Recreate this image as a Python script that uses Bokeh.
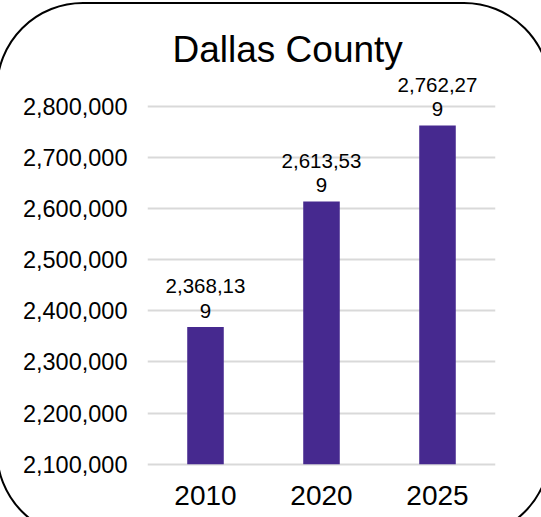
from bokeh.plotting import figure
from bokeh.models import (ColumnDataSource, FixedTicker, NumeralTickFormatter, Title,
                          Range1d, InlineStyleSheet)
from bokeh.core.properties import value
from bokeh.embed import file_html
from bokeh.resources import INLINE

# ---- data ----
title_text = "Dallas County"
years = ["2010", "2020", "2025"]
population = [2368139, 2613539, 2762279]
y_ticks = [2100000, 2200000, 2300000, 2400000, 2500000, 2600000, 2700000, 2800000]
baseline = 2100000

# data labels wrap after 8 characters, as in the original
label_full = [f"{v:,}" for v in population]
label_line1 = [s[:8] for s in label_full]
label_line2 = [s[8:] for s in label_full]

src = ColumnDataSource(dict(year=years, pop=population, l1=label_line1, l2=label_line2))

FONT = "Liberation Sans"
W, H = 541, 517

p = figure(width=W, height=H, x_range=years, y_range=Range1d(2095500, 2869840),
           output_backend="svg", toolbar_location=None,
           min_border_left=147, min_border_right=46, min_border_top=70, min_border_bottom=51)
p.outline_line_color = None
p.background_fill_color = "white"
p.border_fill_color = "white"

p.vbar(x="year", top="pop", bottom=baseline, width=0.315, source=src,
       fill_color="#46298F", line_color=None)

common = dict(source=src, text_align="center", text_baseline="alphabetic",
              text_font=value(FONT), text_font_size="20.5px", text_color="black")
p.text(x="year", y="pop", text="l1", y_offset=-41, **common)
p.text(x="year", y="pop", text="l2", y_offset=-16.5, **common)

t = Title(text=title_text, align="left", offset=25, standoff=2,
          text_font=FONT, text_font_size="37px", text_font_style="normal",
          text_color="black")
p.add_layout(t, "above")

# axes
p.yaxis.ticker = FixedTicker(ticks=y_ticks)
p.yaxis.formatter = NumeralTickFormatter(format="0,0")
p.yaxis.axis_line_color = None
p.yaxis.major_tick_line_color = None
p.yaxis.minor_tick_line_color = None
p.yaxis.major_tick_out = 0
p.yaxis.major_tick_in = 0
p.yaxis.major_label_standoff = 20
p.yaxis.major_label_text_font = FONT
p.yaxis.major_label_text_font_size = "23.5px"
p.yaxis.major_label_text_color = "black"

p.xaxis.axis_line_color = None
p.xaxis.major_tick_line_color = None
p.xaxis.major_tick_out = 0
p.xaxis.major_tick_in = 0
p.xaxis.major_label_standoff = 19
p.xaxis.major_label_text_font = FONT
p.xaxis.major_label_text_font_size = "28px"
p.xaxis.major_label_text_color = "black"

p.xgrid.grid_line_color = None
p.ygrid.grid_line_color = "#d9d9d9"
p.ygrid.grid_line_width = 2
p.ygrid.ticker = FixedTicker(ticks=y_ticks)

# rounded outline of the chart area (partly outside the picture, as in the original)
p.stylesheets = [InlineStyleSheet(css="""
:host { position: relative; overflow: hidden; }
:host::after {
  content: "";
  position: absolute;
  left: -4.1px; top: 1.6px;
  width: 555.2px; height: 536.5px;
  box-sizing: border-box;
  border: 2.2px solid #000;
  border-radius: 87px;
  pointer-events: none;
  z-index: 100;
}
""")]

open("out.html", "w").write(file_html(p, INLINE))
